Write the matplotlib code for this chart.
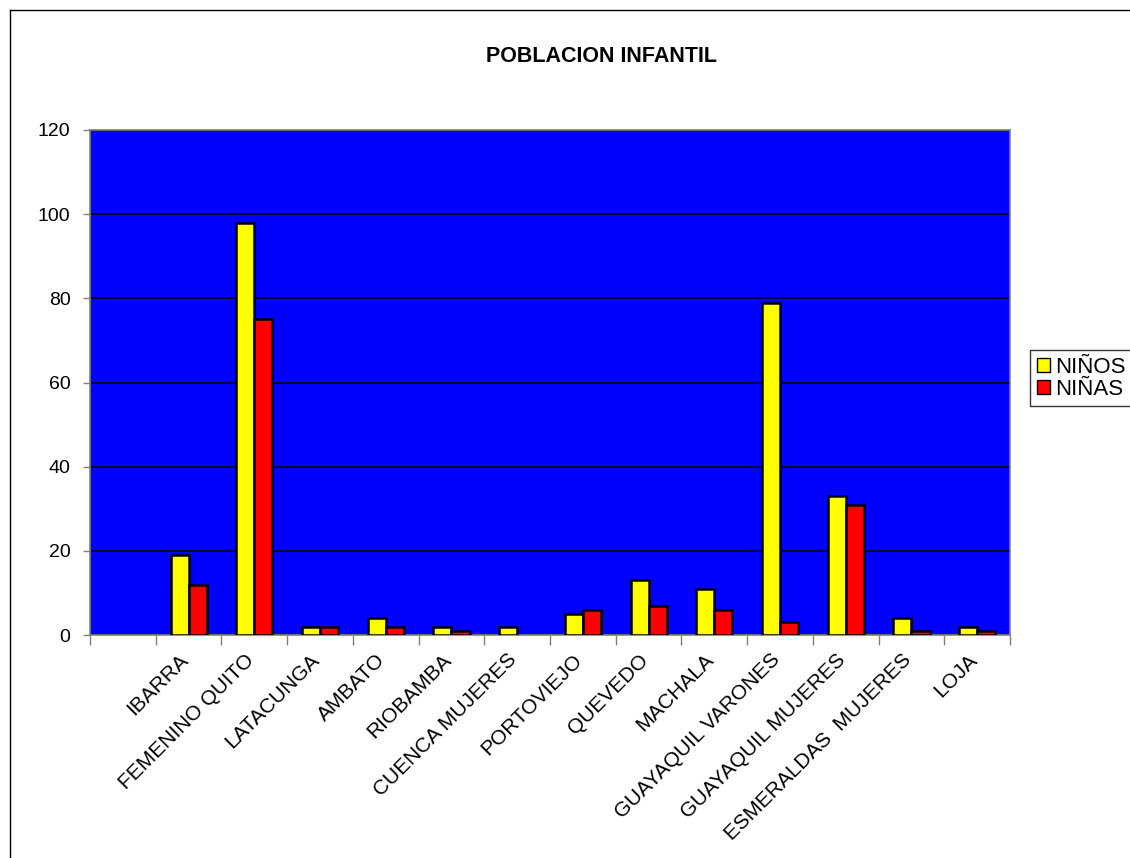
import numpy as np
import matplotlib
matplotlib.use("Agg")
import matplotlib.pyplot as plt
from matplotlib.lines import Line2D
from matplotlib.patches import Patch
from matplotlib.transforms import ScaledTranslation

plt.rcParams['font.family'] = ['Liberation Sans', 'DejaVu Sans']

# Data
centros = ["", "IBARRA", "FEMENINO QUITO", "LATACUNGA", "AMBATO", "RIOBAMBA",
           "CUENCA MUJERES", "PORTOVIEJO", "QUEVEDO", "MACHALA",
           "GUAYAQUIL VARONES", "GUAYAQUIL MUJERES", "ESMERALDAS  MUJERES", "LOJA"]
ninos = [np.nan, 19, 98, 2, 4, 2, 2, 5, 13, 11, 79, 33, 4, 2]
ninas = [np.nan, 12, 75, 2, 2, 1, np.nan, 6, 7, 6, 3, 31, 1, 1]
y_ticks = [0, 20, 40, 60, 80, 100, 120]

W, H = 1130, 858
fig = plt.figure(figsize=(W / 100, H / 100), dpi=100)
ax = fig.add_axes([90 / W, 1 - 635 / H, 920 / W, 505 / H])

x = np.arange(len(centros))
bw = 0.275
ax.bar(x - bw / 2, ninos, bw, color='#FFFF00', edgecolor='black', linewidth=1.8, zorder=3, label='NIÑOS')
ax.bar(x + bw / 2, ninas, bw, color='#FF0000', edgecolor='black', linewidth=1.8, zorder=3, label='NIÑAS')

ax.set_facecolor('#0000FF')
ax.set_xlim(-0.5, len(centros) - 0.5)
ax.set_ylim(0, 120)
ax.set_yticks(y_ticks)
ax.set_yticklabels([str(v) for v in y_ticks], fontsize=14)
ax.yaxis.grid(True, color='black', linewidth=1.1, zorder=1)
ax.set_axisbelow(True)

for s in ax.spines.values():
    s.set_color('#808080')
    s.set_linewidth(1.2)

ax.tick_params(axis='y', length=5, width=1, color='#808080', pad=9)

# category labels at centres, tick marks at category boundaries
ax.set_xticks(x)
ax.set_xticklabels(centros, fontsize=15, rotation=45, ha='right', va='top', rotation_mode='anchor')
ax.set_xticks(np.arange(-0.5, len(centros)), minor=True)
ax.tick_params(axis='x', which='major', length=0, pad=11)
ax.tick_params(axis='x', which='minor', length=7, width=1, color='#808080')
shift = ScaledTranslation(-10 / 100, 0, fig.dpi_scale_trans)
for lab in ax.get_xticklabels():
    lab.set_transform(lab.get_transform() + shift)

fig.text(602 / W, 1 - 57 / H, "POBLACION INFANTIL", ha='center', va='center',
         fontsize=15.5, fontweight='bold')

handles = [Patch(facecolor='#FFFF00', edgecolor='black', linewidth=1),
           Patch(facecolor='#FF0000', edgecolor='black', linewidth=1)]
leg = fig.legend(handles, ['NIÑOS', 'NIÑAS'], loc='upper left',
                 bbox_to_anchor=(1030 / W, 1 - 350 / H), fontsize=16,
                 frameon=True, fancybox=False, edgecolor='black',
                 handlelength=0.6, handleheight=0.6, handletextpad=0.25,
                 borderpad=0.3, labelspacing=0.05, borderaxespad=0)
leg.get_frame().set_linewidth(1)

# outer chart border
fig.add_artist(Line2D([10 / W, 10 / W], [0, 1 - 10 / H], color='black', linewidth=1, transform=fig.transFigure))
fig.add_artist(Line2D([10 / W, 1], [1 - 10 / H, 1 - 10 / H], color='black', linewidth=1, transform=fig.transFigure))

fig.savefig("out.png", dpi=100)
